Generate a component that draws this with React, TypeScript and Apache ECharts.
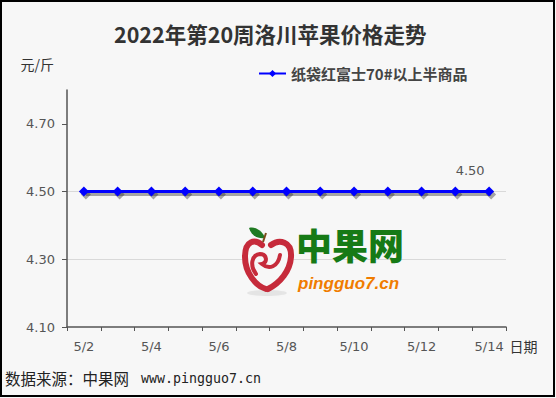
import React, { useEffect, useRef } from "react";
import * as echarts from "echarts";

const titleText = "2022年第20周洛川苹果价格走势";
const seriesName = "纸袋红富士70#以上半商品";
const categories = ["5/2", "5/3", "5/4", "5/5", "5/6", "5/7", "5/8", "5/9", "5/10", "5/11", "5/12", "5/13", "5/14"];
const prices = [4.5, 4.5, 4.5, 4.5, 4.5, 4.5, 4.5, 4.5, 4.5, 4.5, 4.5, 4.5, 4.5];
const yTicks = [4.1, 4.3, 4.5, 4.7];
const yMin = 4.1;
const yMax = 4.8;
const yUnit = "元/斤";
const xName = "日期";
const sourceLabel = "数据来源：中果网";
const sourceUrl = "www.pingguo7.cn";
const logoName = "中果网";
const logoUrl = "pingguo7.cn";

const CJK = "'Noto Sans CJK SC', 'DejaVu Sans', sans-serif";
const NUM = "'DejaVu Sans', 'Noto Sans CJK SC', sans-serif";

let registered = false;
function registerShapes() {
  if (registered) return;
  registered = true;
  echarts.graphic.registerShape(
    "appleLeft",
    echarts.graphic.extendPath("M 21 18 C 14 12, 4 13, 4 30 C 4 46, 15 59, 25 62", {})
  );
  echarts.graphic.registerShape(
    "appleRight",
    echarts.graphic.extendPath("M 30 18 C 38 12, 51 14, 50 30 C 49 44, 39 56, 27 62", {})
  );
  echarts.graphic.registerShape(
    "appleSpiral",
    echarts.graphic.extendPath("M 15 47 C 9 39, 10 28, 19 27 C 26 27, 27 36, 21 37 C 28 43, 37 40, 39 28", {})
  );
  echarts.graphic.registerShape(
    "appleLeaf",
    echarts.graphic.extendPath("M 8 1 C 15 -1, 22 5, 24 11 C 16 12, 10 8, 8 1 Z", {})
  );
}

const GRID = { left: 67, right: 50, top: 90, bottom: 71 };

export default function App() {
  const ref = useRef<HTMLDivElement>(null);
  useEffect(() => {
    if (!ref.current) return;
    registerShapes();
    const chart = echarts.init(ref.current, null, { renderer: "svg", width: 556, height: 398 });
    const last = prices.length - 1;
    const data = prices.map((v, i) =>
      i === last
        ? {
            value: v,
            label: {
              show: true,
              position: "top",
              distance: 10,
              offset: [-19, 0],
              color: "#555",
              fontSize: 13,
              fontFamily: NUM,
              formatter: (p: any) => Number(p.value).toFixed(2),
            },
          }
        : v
    );
    const ax = 241;
    const ay = 227;
    chart.setOption({
      animation: false,
      backgroundColor: "#f7f7f7",
      textStyle: { fontFamily: CJK },
      title: {
        text: titleText,
        left: 109,
        top: 18,
        textStyle: { fontSize: 21.5, fontWeight: "bold", color: "#333", fontFamily: CJK },
      },
      legend: {
        left: 253,
        top: 61,
        itemWidth: 27,
        itemHeight: 9,
        itemGap: 10,
        textStyle: { fontSize: 15, fontWeight: "bold", color: "#444", fontFamily: CJK },
        data: [seriesName],
      },
      grid: [
        { ...GRID, containLabel: false },
        { left: GRID.left + 2, right: GRID.right - 2, top: GRID.top + 3, bottom: GRID.bottom - 3, containLabel: false },
      ],
      xAxis: [
        {
          type: "category",
          gridIndex: 0,
          data: categories,
          boundaryGap: true,
          name: xName,
          nameLocation: "end",
          nameGap: -4,
          nameTextStyle: {
            fontSize: 14,
            color: "#333",
            fontFamily: CJK,
            align: "left",
            verticalAlign: "top",
            padding: [12, 0, 0, 0],
          },
          axisLine: { show: true, lineStyle: { color: "#555", width: 1.5 } },
          axisTick: { show: true, interval: 0, length: 4, lineStyle: { color: "#555" } },
          axisLabel: { interval: 1, margin: 13, color: "#555", fontSize: 13, fontFamily: NUM },
          splitLine: { show: false },
        },
        {
          type: "category",
          gridIndex: 1,
          data: categories,
          boundaryGap: true,
          show: false,
        },
      ],
      yAxis: [
        {
          type: "value",
          gridIndex: 0,
          min: yMin,
          max: yMax,
          interval: 0.2,
          name: yUnit,
          nameLocation: "end",
          nameGap: 19,
          nameTextStyle: { fontSize: 14, color: "#333", fontFamily: CJK, align: "right", padding: [0, 13, 0, 0] },
          axisLine: { show: true, lineStyle: { color: "#555", width: 1.5 } },
          axisTick: { show: true, length: 5, lineStyle: { color: "#555" }, customValues: yTicks },
          axisLabel: {
            margin: 12,
            color: "#555",
            fontSize: 13,
            fontFamily: NUM,
            customValues: yTicks,
            formatter: (v: number) => Number(v).toFixed(2),
          },
          splitLine: { show: true, showMaxLine: false, showMinLine: false, lineStyle: { color: "#d9d9d9", width: 1 } },
        },
        {
          type: "value",
          gridIndex: 1,
          min: yMin,
          max: yMax,
          interval: 0.2,
          show: false,
          splitLine: { show: false },
        },
      ],
      series: [
        {
          name: seriesName + " shadow",
          type: "line",
          xAxisIndex: 1,
          yAxisIndex: 1,
          data: prices,
          symbol: "diamond",
          symbolSize: 10,
          silent: true,
          lineStyle: { color: "rgba(40,40,40,0.4)", width: 3 },
          itemStyle: { color: "rgba(40,40,40,0.4)" },
          z: 3,
        },
        {
          name: seriesName,
          type: "line",
          xAxisIndex: 0,
          yAxisIndex: 0,
          data,
          symbol: "diamond",
          symbolSize: 10,
          showSymbol: true,
          lineStyle: { color: "#0000ff", width: 3 },
          itemStyle: { color: "#0000ff" },
          z: 5,
        },
      ],
      graphic: [
        {
          type: "rect",
          shape: { x: 1, y: 1, width: 553, height: 395 },
          style: { fill: "none", stroke: "#000", lineWidth: 2 },
          z: 100,
          silent: true,
        },
        {
          type: "text",
          x: 5,
          y: 378,
          style: { text: sourceLabel, fontSize: 15.5, fill: "#222", fontFamily: CJK, verticalAlign: "middle" },
          z: 10,
        },
        {
          type: "text",
          x: 141,
          y: 378,
          style: { text: sourceUrl, fontSize: 13.3, fill: "#222", fontFamily: "'DejaVu Sans Mono', monospace", verticalAlign: "middle" },
          z: 10,
        },
        {
          type: "ellipse",
          shape: { cx: 267, cy: 293, rx: 20, ry: 3 },
          style: { fill: "rgba(0,0,0,0.07)", shadowBlur: 4, shadowColor: "rgba(0,0,0,0.15)" },
          z: 9,
        },
        {
          type: "rect",
          shape: { x: 244, y: 238, width: 48, height: 52 },
          style: { fill: "#f7f7f7" },
          z: 9,
        },
        {
          type: "appleLeft",
          x: ax,
          y: ay,
          style: { fill: "none", stroke: "#c62b3b", lineWidth: 6, lineCap: "round" },
          z: 10,
        },
        {
          type: "appleRight",
          x: ax,
          y: ay,
          style: { fill: "none", stroke: "#c62b3b", lineWidth: 6, lineCap: "round" },
          z: 10,
        },
        {
          type: "appleSpiral",
          x: ax,
          y: ay,
          style: { fill: "none", stroke: "#c62b3b", lineWidth: 4, lineCap: "round" },
          z: 10,
        },
        {
          type: "appleLeaf",
          x: ax,
          y: ay,
          style: { fill: "#1f7a22", stroke: "none" },
          z: 10,
        },
        {
          type: "line",
          shape: { x1: ax + 25, y1: ay + 6, x2: ax + 22, y2: ay + 15 },
          style: { stroke: "#7a4a1a", lineWidth: 2 },
          z: 10,
        },
        {
          type: "text",
          x: 296,
          y: 244,
          style: {
            text: logoName,
            fontSize: 36,
            lineHeight: 34,
            fontWeight: 900,
            fill: "#167a16",
            fontFamily: CJK,
            verticalAlign: "middle",
          },
          z: 10,
        },
        {
          type: "text",
          x: 298,
          y: 283,
          style: {
            text: logoUrl,
            fontSize: 17,
            lineHeight: 16,
            fontWeight: "bold",
            fontStyle: "italic",
            fill: "#f07c00",
            fontFamily: "'Liberation Sans', 'DejaVu Sans', sans-serif",
            verticalAlign: "middle",
          },
          z: 10,
        },
      ],
    });
    return () => chart.dispose();
  }, []);
  return (
    <div
      ref={ref}
      style={{ position: "absolute", left: 0, top: 0, width: 556, height: 398, background: "#f7f7f7" }}
    />
  );
}
